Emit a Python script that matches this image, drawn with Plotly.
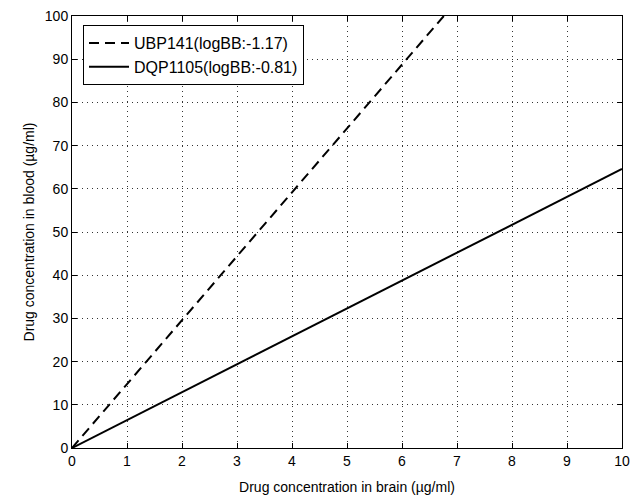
import plotly.graph_objects as go

# Blood vs. brain drug concentration for two compounds (straight lines through the origin)
ubp_brain = [0.0, 6.76]
ubp_blood = [0.0, 100.0]
dqp_brain = [0.0, 10.0]
dqp_blood = [0.0, 64.6]

names = ["UBP141(logBB:-1.17)", "DQP1105(logBB:-0.81)"]
x_ticks = list(range(0, 11))
y_ticks = list(range(0, 101, 10))

W, H = 632, 497
L, R, T, B = 72, 622, 16, 448

fig = go.Figure()
fig.add_trace(go.Scatter(x=ubp_brain, y=ubp_blood, mode="lines", name=names[0],
                         line=dict(color="black", width=2, dash="10px,6px")))
fig.add_trace(go.Scatter(x=dqp_brain, y=dqp_blood, mode="lines", name=names[1],
                         line=dict(color="black", width=2)))

family = "Liberation Sans, Arial, sans-serif"
tick_font = dict(family=family, size=14, color="black")
title_font = dict(family=family, size=14, color="black")
axis_common = dict(showline=True, linecolor="black", linewidth=1, mirror="allticks",
                   ticks="inside", ticklen=5, tickcolor="black",
                   showgrid=True, gridcolor="#333333", griddash="1px,4px", gridwidth=1,
                   zeroline=False, tickfont=tick_font, automargin=False)

fig.update_layout(
    width=W, height=H,
    margin=dict(l=L, r=W - R, t=T, b=H - B),
    paper_bgcolor="white", plot_bgcolor="white",
    font=tick_font,
    showlegend=True,
    legend=dict(x=(83 - L) / (R - L), y=1 - (25 - T) / (B - T), xanchor="left", yanchor="top",
                bgcolor="white", bordercolor="black", borderwidth=1,
                font=dict(family=family, size=16, color="black"),
                tracegroupgap=0, itemwidth=40),
    xaxis=dict(range=[0, 10], tickvals=x_ticks, ticktext=[str(v) for v in x_ticks],
               title=dict(text="Drug concentration in brain (µg/ml)", standoff=14, font=title_font),
               **axis_common),
    yaxis=dict(range=[0, 100], tickvals=y_ticks, ticktext=[str(v) for v in y_ticks],
               title=dict(text="Drug concentration in blood (µg/ml)", standoff=6, font=title_font),
               **axis_common),
)

fig.write_html("out.html")
